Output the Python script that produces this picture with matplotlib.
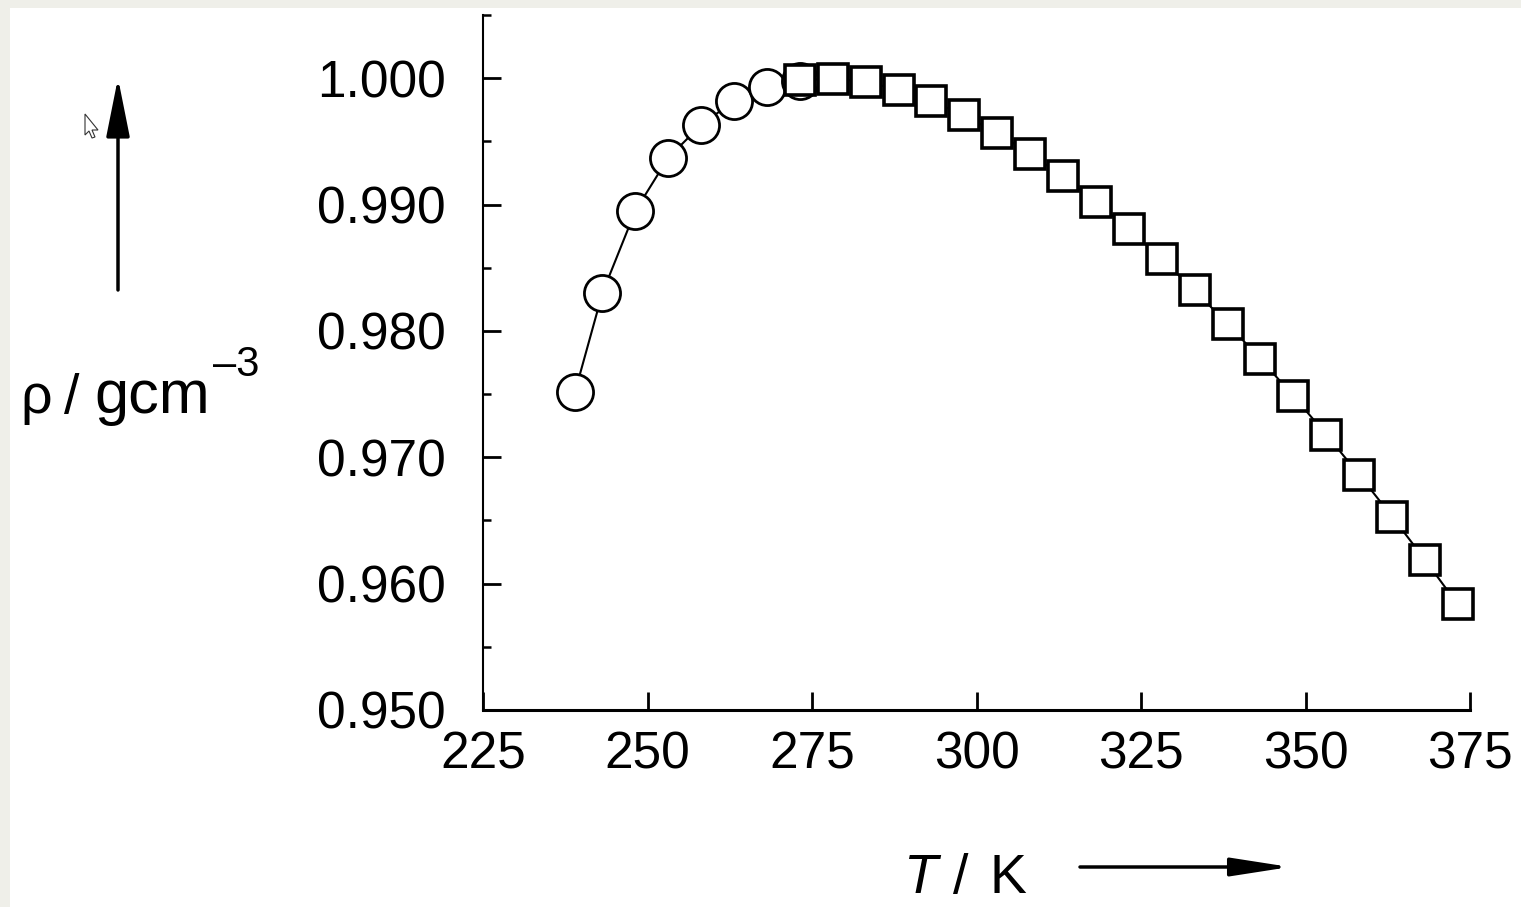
import matplotlib
matplotlib.use("Agg")
import matplotlib.pyplot as plt
from matplotlib.patches import FancyArrowPatch, Polygon, Rectangle
from matplotlib.ticker import MultipleLocator, FormatStrFormatter

plt.rcParams['font.family'] = ['Liberation Sans', 'DejaVu Sans']

# supercooled water (circles)
t_cold = [239.0, 243.15, 248.15, 253.15, 258.15, 263.15, 268.15, 273.15]
rho_cold = [0.9752, 0.9830, 0.9895, 0.9937, 0.9963, 0.9982, 0.9993, 0.9998]

# liquid water (squares)
t_liq = [273.15, 278.15, 283.15, 288.15, 293.15, 298.15, 303.15, 308.15,
         313.15, 318.15, 323.15, 328.15, 333.15, 338.15, 343.15, 348.15,
         353.15, 358.15, 363.15, 368.15, 373.15]
rho_liq = [0.99984, 0.99997, 0.99970, 0.99910, 0.99820, 0.99705, 0.99565,
           0.99403, 0.99222, 0.99021, 0.98804, 0.98570, 0.98320, 0.98056,
           0.97778, 0.97486, 0.97180, 0.96862, 0.96531, 0.96189, 0.95835]

W, H = 1521, 907
fig = plt.figure(figsize=(W / 100, H / 100), dpi=100)

def fx(px):
    return px / W

def fy(py):
    return 1 - py / H

# gray screenshot border (top and left)
fig.patches.append(Rectangle((0, fy(8)), 1, 8 / H, transform=fig.transFigure,
                             facecolor='#efefe9', edgecolor='none', zorder=0))
fig.patches.append(Rectangle((0, 0), 10 / W, 1, transform=fig.transFigure,
                             facecolor='#efefe9', edgecolor='none', zorder=0))

ax = fig.add_axes([fx(483), fy(710), fx(1470) - fx(483), fy(15) - fy(710)])

ax.plot(t_cold, rho_cold, color='black', lw=1.5, marker='o', ms=26,
        mfc='white', mec='black', mew=2, zorder=3)
ax.plot(t_liq, rho_liq, color='black', lw=1.5, marker='s', ms=21.5,
        mfc='white', mec='black', mew=2.6, zorder=4)

ax.set_xlim(225, 375)
ax.set_ylim(0.950, 1.005)
ax.xaxis.set_major_locator(MultipleLocator(25))
ax.yaxis.set_major_locator(MultipleLocator(0.010))
ax.yaxis.set_minor_locator(MultipleLocator(0.005))
ax.yaxis.set_major_formatter(FormatStrFormatter('%.3f'))

for s in ['top', 'right']:
    ax.spines[s].set_visible(False)
ax.spines['left'].set_linewidth(1.5)
ax.spines['bottom'].set_linewidth(2.2)

ax.tick_params(axis='both', which='major', direction='in', length=13,
               width=2, labelsize=37)
ax.tick_params(axis='y', which='minor', direction='in', length=6, width=1.8)
ax.tick_params(axis='y', which='major', pad=27)
ax.tick_params(axis='x', which='major', pad=15)
for ln in ax.lines:
    ln.set_clip_on(False)

# y label and arrow
fig.text(fx(20), fy(413), 'ρ', fontsize=40, ha='left', va='baseline')
fig.text(fx(64), fy(413), '/', fontsize=40, ha='left', va='baseline')
fig.text(fx(94), fy(413), 'gcm', fontsize=44, ha='left', va='baseline')
fig.text(fx(213), fy(376), '\u20133', fontsize=30, ha='left', va='baseline')
fig.patches.append(FancyArrowPatch((fx(118), fy(290)), (fx(118), fy(78)),
                                   transform=fig.transFigure,
                                   arrowstyle='-|>,head_length=9,head_width=1.8',
                                   lw=2.5, color='black', mutation_scale=4,
                                   shrinkA=0, shrinkB=0))

# x label and arrow
fig.text(fx(903), fy(893), 'T', fontsize=40, style='italic', ha='left',
         va='baseline')
fig.text(fx(953), fy(893), '/', fontsize=40, ha='left', va='baseline')
fig.text(fx(990), fy(893), 'K', fontsize=40, ha='left', va='baseline')
fig.patches.append(FancyArrowPatch((fx(1080), fy(867)), (fx(1290), fy(867)),
                                   transform=fig.transFigure,
                                   arrowstyle='-|>,head_length=9,head_width=1.4',
                                   lw=2.5, color='black', mutation_scale=4,
                                   shrinkA=0, shrinkB=0))

# mouse pointer left in the screenshot
cursor = [(85, 114), (85, 135), (89, 131), (92, 138), (95, 137), (92, 130),
          (98, 130)]
fig.patches.append(Polygon([(fx(x), fy(y)) for x, y in cursor], closed=True,
                           transform=fig.transFigure, facecolor='white',
                           edgecolor='#333333', lw=0.8))

fig.savefig('out.png', dpi=100)
